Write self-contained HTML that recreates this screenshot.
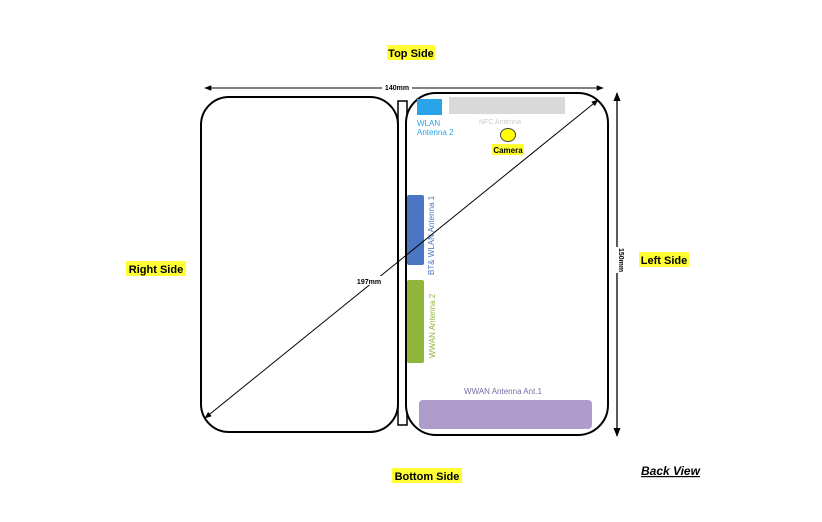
<!DOCTYPE html>
<html><head><style>
body{margin:0;background:#fff;}
svg{display:block;font-family:"Liberation Sans",Arial,sans-serif;}
</style></head><body>
<svg width="822" height="522" viewBox="0 0 822 522">
<defs>
<marker id="a" viewBox="0 0 10 10" refX="9" refY="5" markerWidth="7" markerHeight="7" orient="auto-start-reverse"><path d="M0,1 L10,5 L0,9 z" fill="#000"/></marker>
</defs>
<rect x="387" y="45" width="48" height="15" fill="#ffff33"/>
<text x="411" y="57" font-size="11" font-weight="bold" text-anchor="middle">Top Side</text>
<rect x="126" y="261" width="60" height="15" fill="#ffff33"/>
<text x="156" y="273" font-size="11" font-weight="bold" text-anchor="middle">Right Side</text>
<rect x="639" y="252" width="50" height="15" fill="#ffff33"/>
<text x="664" y="264" font-size="11" font-weight="bold" text-anchor="middle">Left Side</text>
<rect x="392" y="468" width="70" height="15" fill="#ffff33"/>
<text x="427" y="480" font-size="11" font-weight="bold" text-anchor="middle">Bottom Side</text>
<text x="641" y="475" font-size="12" font-weight="bold" font-style="italic" text-decoration="underline">Back View</text>
<rect x="201" y="97" width="197" height="335" rx="28" fill="none" stroke="#000" stroke-width="2"/>
<rect x="398" y="101" width="9" height="324" fill="none" stroke="#000" stroke-width="1.5"/>
<rect x="406" y="93" width="202" height="342" rx="30" fill="#fff" stroke="#000" stroke-width="2"/>
<rect x="417" y="99" width="25" height="16" fill="#2aa3e8"/>
<text x="417" y="126" font-size="8" fill="#2aa3e8">WLAN</text>
<text x="417" y="135" font-size="8" fill="#2aa3e8">Antenna 2</text>
<rect x="449" y="97" width="116" height="17" fill="#d9d9d9"/>
<text x="500" y="124" font-size="7" fill="#ccc" text-anchor="middle">NFC Antenna</text>
<ellipse cx="508" cy="135" rx="7.5" ry="6.5" fill="#ffff00" stroke="#444" stroke-width="1"/>
<rect x="492" y="144" width="32" height="11" fill="#ffff33"/>
<text x="508" y="153" font-size="8" font-weight="bold" text-anchor="middle">Camera</text>
<rect x="407" y="195" width="17" height="70" rx="2" fill="#4a76c4"/>
<text transform="translate(434,275) rotate(-90)" font-size="8" fill="#4a76c4">BT&amp; WLAN Antenna 1</text>
<rect x="407" y="280" width="17" height="83" rx="2" fill="#8fb53a"/>
<text transform="translate(435,358) rotate(-90)" font-size="8" fill="#8fb53a">WWAN Antenna 2</text>
<text x="503" y="394" font-size="8" fill="#7a6aa8" text-anchor="middle">WWAN Antenna Ant.1</text>
<rect x="419" y="400" width="173" height="29" rx="4" fill="#ae9dcc"/>
<line x1="205" y1="88" x2="603" y2="88" stroke="#000" stroke-width="1" marker-start="url(#a)" marker-end="url(#a)"/>
<rect x="382" y="82" width="30" height="9" fill="#fff"/>
<text x="397" y="90" font-size="7" font-weight="bold" text-anchor="middle">140mm</text>
<line x1="617" y1="93" x2="617" y2="436" stroke="#000" stroke-width="1.3" marker-start="url(#a)" marker-end="url(#a)"/>
<rect x="613" y="247" width="9" height="26" fill="#fff"/>
<text transform="translate(619,248) rotate(90)" font-size="7" font-weight="bold">150mm</text>
<line x1="205" y1="418" x2="598" y2="100" stroke="#000" stroke-width="1" marker-start="url(#a)" marker-end="url(#a)"/>
<rect x="354" y="276" width="30" height="9" fill="#fff"/>
<text x="369" y="284" font-size="7" font-weight="bold" text-anchor="middle">197mm</text>
</svg>
</body></html>
